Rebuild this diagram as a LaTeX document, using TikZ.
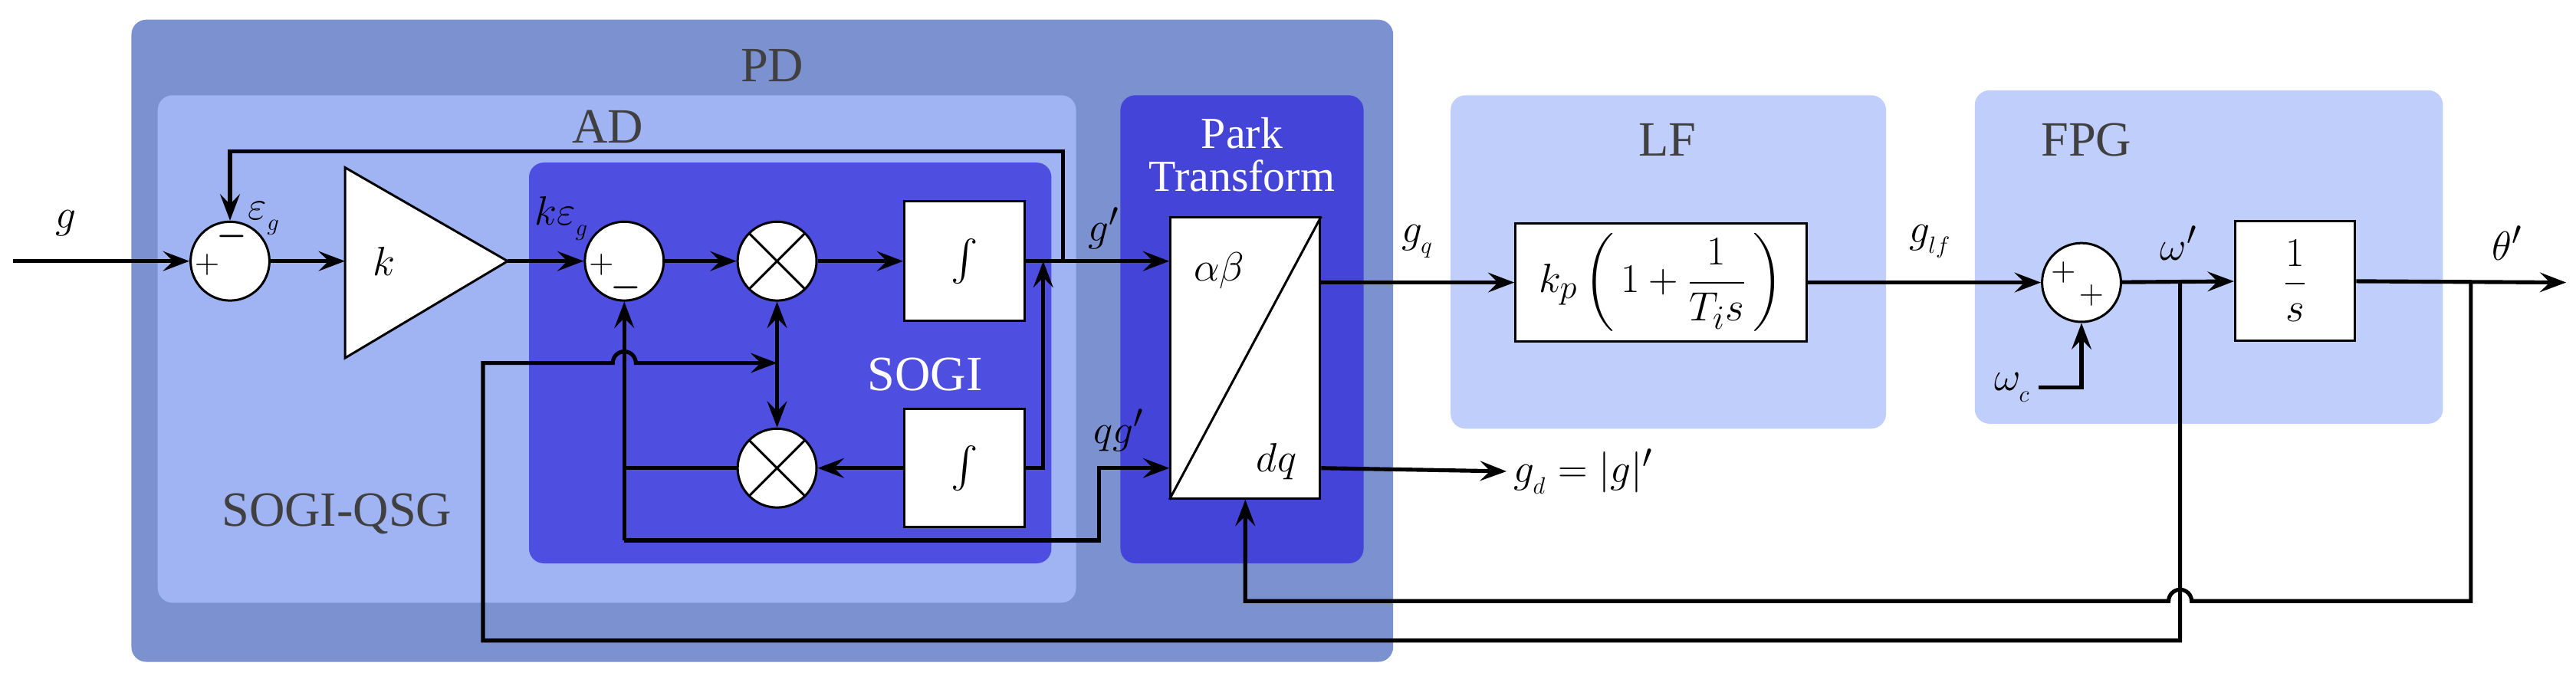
\documentclass[tikz,border=0pt]{standalone}
\usepackage{amsmath}
\usepackage{fontspec}
\setmainfont{Liberation Serif}
\usetikzlibrary{arrows.meta}
\usetikzlibrary{positioning}
\definecolor{pdcol}{HTML}{7B91D0}
\definecolor{adcol}{HTML}{A0B3F3}
\definecolor{sogicol}{HTML}{4E4FE0}
\definecolor{parkcol}{HTML}{4444D8}
\definecolor{lfcol}{HTML}{C0CEFB}
\definecolor{txtcol}{HTML}{404040}
\tikzset{>={Stealth[length=16pt,width=12pt,inset=6pt]},
         every path/.style = {line width=2.4pt},
         grp/.style = {fill=#1, rounded corners=9pt, draw=none},
         grplbl/.style = {text=txtcol, font=\fontsize{30}{34}\selectfont},
         lbl/.style = {font=\fontsize{28}{32}\selectfont},
         sgn/.style = {font=\fontsize{20}{22}\selectfont, inner sep=0pt},
         sumc/.style = {circle, draw, fill=white, line width=1.4pt, minimum size=48pt, inner sep=0pt},
         mult/.style = {sumc, path picture={
                         \draw[line width=1.4pt] ([shift={(45:24)}]path picture bounding box.center) -- ([shift={(225:24)}]path picture bounding box.center);
                         \draw[line width=1.4pt] ([shift={(135:24)}]path picture bounding box.center) -- ([shift={(-45:24)}]path picture bounding box.center);}},
         blk/.style = {rectangle, draw, fill=white, line width=1.4pt, inner sep=0pt,
                       font=\fontsize{28}{32}\selectfont}}

\begin{document}
\begin{tikzpicture}[x=1pt, y=-1pt]
      \useasboundingbox (0,0) rectangle (1568,411.6);

      % groups
      \fill [grp=pdcol] (80,12) rectangle (848,403);
      \fill [grp=adcol] (96,58) rectangle (655,367);
      \fill [grp=sogicol] (322,99) rectangle (640,343);
      \fill [grp=parkcol] (682,58) rectangle (830,343);
      \fill [grp=lfcol] (883,58) rectangle (1148,261);
      \fill [grp=lfcol] (1202,55) rectangle (1487,258);
      \node [grplbl] at (470,40) {PD};
      \node [grplbl] at (370,77) {AD};
      \node [grplbl] at (205,313) {SOGI-QSG};
      \node [grplbl, text=white] at (563,228) {SOGI};
      \node [grplbl, text=white, align=center, font=\fontsize{27}{26}\selectfont] at (756,94) {Park\\Transform};
      \node [grplbl] at (1015,85) {LF};
      \node [grplbl] at (1270,85) {FPG};

      % blocks
      \node [sumc] (s1) at (140,159) {};
      \node [sgn] at (126,161) {$+$};
      \node [sgn] at (141,144) {$\boldsymbol{-}$};
      \draw [fill=white, line width=1.4pt] (210,102) coordinate (kin) -- (210,218) -- (309,159) coordinate (kout) -- cycle;
      \coordinate (kin) at (210,159);
      \node [lbl] (k) at (234,159) {$k$};
      \node [sumc] (s2) at (380,159) {};
      \node [sgn] at (366,161) {$+$};
      \node [sgn] at (381,175) {$\boldsymbol{-}$};
      \node [mult] (m1) at (473,159) {};
      \node [mult] (m2) at (473,285) {};
      \node [blk, minimum width=73pt, minimum height=73pt] (i1) at (587,159) {$\int$};
      \node [blk, minimum width=73pt, minimum height=72pt] (i2) at (587,285) {$\int$};
      \node [blk, minimum width=91pt, minimum height=171pt] (park) at (758,218) {};
      \draw [line width=1.4pt] (park.south west) -- (park.north east);
      \node [lbl] at (742,165) {$\alpha\beta$};
      \node [lbl] at (777,281) {$dq$};
      \node [blk, minimum width=177pt, minimum height=72pt] (lf) at (1011,172)
            {$k_p\left(\,1+\dfrac{1}{T_i s}\,\right)$};
      \node [sumc] (s3) at (1267,172) {};
      \node [sgn] at (1256,166) {$+$};
      \node [sgn] at (1273,180) {$+$};
      \node [blk, minimum width=73pt, minimum height=73pt] (i3) at (1397,171) {$\dfrac{1}{s}$};

      % labels
      \node [lbl] at (40,136) {$g$};
      \node [lbl] at (161,133) {$\varepsilon_{_g}$};
      \node [lbl] at (342,133) {$k\varepsilon_{_g}$};
      \node [lbl] at (672,139) {$g'$};
      \node [lbl] at (681,262) {$qg'$};
      \node [lbl] at (863,147) {$g_{_q}$};
      \node [lbl] at (1175,147) {$g_{_{lf}}$};
      \node [lbl] at (1225,236) (wc) {$\omega_{_c}$};
      \node [lbl] at (1326,148) {$\omega'$};
      \node [lbl] at (1526,148) {$\theta'$};
      \node [lbl, anchor=west] (gd) at (917,287) {$g_{_d}=|g|'$};

      % junctions
      \coordinate (in) at (8,159);
      \coordinate (gp) at (647,159);
      \coordinate (j1) at (635,159);
      \coordinate (qb) at (380,329);
      \coordinate (wj) at (1327,172);
      \coordinate (tj) at (1504,172);
      \coordinate (out) at (1562,172);

      % connectors
      \draw [->] (in) -- (s1);
      \draw [->] (s1) -- (kin);
      \draw [->] (kout) -- (s2);
      \draw [->] (s2) -- (m1);
      \draw [->] (m1) -- (i1);
      \draw [->] (i1.east) -- (i1.east -| park.west);
      \draw [->] (gp) |- (140,92) -- (s1.north);
      \draw [->] (i2.east) -| (j1);
      \draw [->] (i2) -- (m2);
      \draw [<->] (m1) -- (m2);
      \draw (m2.west) -- (m2.west -| s2);
      \draw [->] (qb) -- (s2.south);
      \draw [->] (qb) -- (669,329) |- (park.west |- 0,285);
      \draw [->] (wj) -- (1327,390) -- (294,390) -- (294,221) -- (373,221)
            arc [start angle=180, end angle=360, radius=7] -- (m2.north |- 0,221);
      \draw [->] (tj) -- (1504,366) -- (1334,366)
            arc [start angle=0, end angle=-180, radius=7] -- (park.south |- 0,366) -- (park.south);
      \draw [->] (park.east |- 0,172) -- (lf.west);
      \draw [->] (park.east |- 0,285) -- (gd.west);
      \draw [->] (lf) -- (s3);
      \draw [->] (wc.east) -| (s3.south);
      \draw [->] (s3) -- (i3);
      \draw [->] (i3) -- (out);
\end{tikzpicture}
\end{document}
